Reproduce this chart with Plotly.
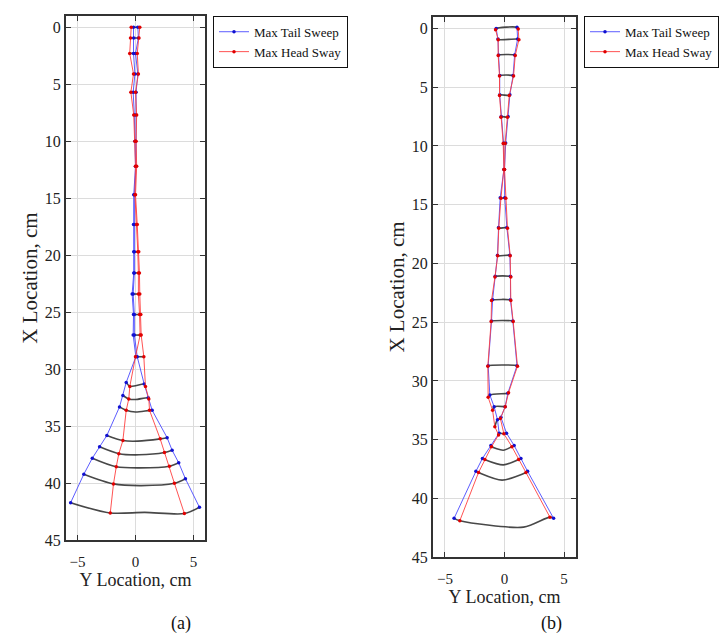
import plotly.graph_objects as go

# ---------------- Panel (a) data ----------------
# "_x" = X Location (vertical axis, cm), "_y" = Y Location (horizontal axis, cm)
a_tail_left_x = [0.0, 0.95, 2.3, 4.1, 5.7, 7.7, 10.0, 12.2, 14.7, 17.3, 19.7, 21.55, 23.4, 25.2, 27.0, 28.9, 31.15, 32.3, 33.3, 35.8, 36.8, 37.8, 39.2, 41.7]
a_tail_left_y = [-0.17, -0.15, -0.17, -0.05, -0.2, -0.1, -0.05, 0.0, -0.15, -0.17, -0.15, -0.15, -0.29, -0.17, -0.2, 0.03, -0.8, -1.09, -1.38, -2.47, -3.1, -3.73, -4.46, -5.6]
a_tail_right_x = [0.0, 0.95, 2.3, 4.1, 5.7, 7.7, 10.0, 12.2, 14.7, 17.3, 19.7, 21.55, 23.4, 25.2, 27.0, 28.9, 31.3, 32.5, 33.6, 36.0, 37.1, 38.2, 39.6, 42.1]
a_tail_right_y = [0.2, 0.25, 0.0, 0.2, 0.05, 0.05, 0.0, 0.05, -0.1, -0.1, -0.1, -0.1, -0.2, -0.1, -0.1, 0.15, 0.75, 1.1, 1.44, 2.73, 3.16, 3.73, 4.31, 5.52]
a_head_left_x = [0.0, 0.95, 2.3, 4.1, 5.7, 7.7, 10.0, 12.2, 14.7, 17.3, 19.7, 21.55, 23.4, 25.2, 27.0, 28.9, 31.5, 32.6, 33.6, 36.25, 37.4, 38.55, 40.05, 42.6]
a_head_left_y = [-0.37, -0.43, -0.5, -0.17, -0.4, -0.15, -0.05, 0.0, -0.05, 0.1, 0.2, 0.25, 0.25, 0.35, 0.4, 0.0, -0.49, -0.58, -0.8, -1.09, -1.44, -1.66, -1.9, -2.18]
a_head_right_x = [0.0, 0.95, 2.3, 4.1, 5.7, 7.7, 10.0, 12.2, 14.7, 17.3, 19.7, 21.55, 23.4, 25.2, 27.0, 28.9, 31.5, 32.6, 33.6, 36.1, 37.3, 38.5, 40.0, 42.65]
a_head_right_y = [0.37, 0.3, 0.15, 0.25, 0.0, 0.1, 0.05, 0.1, 0.0, 0.15, 0.28, 0.34, 0.37, 0.46, 0.49, 0.72, 0.86, 1.15, 1.21, 2.13, 2.5, 2.93, 3.36, 4.22]
a_arc_mid_x = [None] * 16 + [31.45, 32.65, 33.75, 36.3, 37.5, 38.65, 40.2, 42.55]
a_arc_mid_y = [None] * 16 + [0.0, 0.0, 0.0, 0.2, 0.3, 0.4, 0.5, 0.8]

# ---------------- Panel (b) data ----------------
b_tail_left_x = [0.0, 0.9, 2.25, 4.0, 5.65, 7.5, 9.75, 12.0, 14.4, 16.95, 19.3, 21.1, 23.1, 24.9, 28.7, 31.2, 32.2, 33.3, 34.45, 35.5, 36.6, 37.7, 41.7]
b_tail_left_y = [-0.7, -0.55, -0.5, -0.4, -0.4, -0.28, -0.08, -0.05, -0.36, -0.5, -0.59, -0.78, -1.0, -1.09, -1.37, -1.23, -0.87, -0.59, -0.45, -1.14, -1.85, -2.4, -4.23]
b_tail_right_x = [-0.1, 0.9, 2.25, 4.0, 5.65, 7.5, 9.75, 12.0, 14.4, 16.95, 19.3, 21.1, 23.1, 24.9, 28.7, 31.05, 32.2, 33.1, 34.45, 35.5, 36.6, 37.7, 41.7]
b_tail_right_y = [1.05, 1.1, 0.85, 0.72, 0.45, 0.3, 0.1, 0.0, 0.02, 0.2, 0.45, 0.5, 0.5, 0.7, 1.05, 0.28, 0.05, -0.3, 0.17, 0.81, 1.38, 1.94, 4.12]
b_head_left_x = [0.1, 0.95, 2.3, 4.05, 5.7, 7.55, 9.8, 12.0, 14.45, 17.0, 19.35, 21.15, 23.15, 24.95, 28.75, 31.4, 32.5, 33.9, 34.6, 35.6, 36.7, 37.8, 41.9]
b_head_left_y = [-0.75, -0.53, -0.53, -0.42, -0.42, -0.3, -0.11, -0.05, -0.3, -0.48, -0.57, -0.8, -1.09, -1.12, -1.4, -1.37, -1.0, -0.81, -0.5, -1.09, -1.65, -2.18, -3.75]
b_head_right_x = [0.05, 0.95, 2.3, 4.05, 5.7, 7.55, 9.8, 12.0, 14.45, 17.0, 19.35, 21.15, 23.15, 24.95, 28.75, 31.0, 32.2, 33.2, 34.5, 35.6, 36.7, 37.8, 41.6]
b_head_right_y = [1.15, 1.21, 0.9, 0.76, 0.4, 0.25, 0.05, 0.0, 0.11, 0.25, 0.48, 0.53, 0.53, 0.73, 1.09, 0.34, 0.06, -0.35, -0.05, 0.62, 1.18, 1.8, 3.81]
b_arc_mid_x = [None] * 19 + [35.9, 37.15, 38.45, 42.45]
b_arc_mid_y = [None] * 19 + [-0.1, -0.1, -0.2, 1.6]

x_tick_vals = [-5, 0, 5]
y_tick_vals = [0, 5, 10, 15, 20, 25, 30, 35, 40, 45]
legend_names = ["Max Tail Sweep", "Max Head Sway"]
captions = ["(a)", "(b)"]
x_title = "Y Location, cm"
y_title = "X Location, cm"

SERIF = "'Liberation Serif', 'Times New Roman', Times, serif"
W, H = 726, 643


def panel_traces(tl_x, tl_y, tr_x, tr_y, hl_x, hl_y, hr_x, hr_y, mid_x, mid_y, xa, ya, leg):
    traces = []
    # black arcs at each station
    for i in range(len(tl_x)):
        pts = [(tl_y[i], tl_x[i]), (hl_y[i], hl_x[i]), (hr_y[i], hr_x[i]), (tr_y[i], tr_x[i])]
        if mid_x[i] is not None:
            pts.append((mid_y[i], mid_x[i]))
        pts.sort(key=lambda p: p[0])
        traces.append(go.Scatter(
            x=[p[0] for p in pts], y=[p[1] for p in pts], mode="lines",
            line=dict(color="rgba(40,40,40,0.85)", width=1.6, shape="spline", smoothing=0.8),
            xaxis=xa, yaxis=ya, showlegend=False, hoverinfo="skip"))
    traces.append(go.Scatter(
        x=tl_y + [None] + tr_y, y=tl_x + [None] + tr_x, mode="lines+markers",
        name=legend_names[0], line=dict(color="#4a4aff", width=0.9),
        marker=dict(color="#1010d0", size=3.5), xaxis=xa, yaxis=ya, legend=leg))
    traces.append(go.Scatter(
        x=hl_y + [None] + hr_y, y=hl_x + [None] + hr_x, mode="lines+markers",
        name=legend_names[1], line=dict(color="#ff4040", width=0.9),
        marker=dict(color="#e00000", size=3.5), xaxis=xa, yaxis=ya, legend=leg))
    return traces


fig = go.Figure()
for t in panel_traces(a_tail_left_x, a_tail_left_y, a_tail_right_x, a_tail_right_y,
                      a_head_left_x, a_head_left_y, a_head_right_x, a_head_right_y,
                      a_arc_mid_x, a_arc_mid_y, "x", "y", "legend"):
    fig.add_trace(t)
for t in panel_traces(b_tail_left_x, b_tail_left_y, b_tail_right_x, b_tail_right_y,
                      b_head_left_x, b_head_left_y, b_head_right_x, b_head_right_y,
                      b_arc_mid_x, b_arc_mid_y, "x2", "y2", "legend2"):
    fig.add_trace(t)

common_x = dict(range=[-6, 6], tickvals=x_tick_vals, ticks="inside", ticklen=5, tickcolor="#333",
                showline=True, linecolor="#333", linewidth=2, mirror="ticks",
                showgrid=True, gridcolor="#dcdcdc", gridwidth=1, zeroline=False,
                ticklabelstandoff=7,
                tickfont=dict(family=SERIF, size=15, color="#222"),
                title=dict(text=x_title, font=dict(family=SERIF, size=18, color="#222"), standoff=3))
common_y = dict(range=[45, -1], tickvals=y_tick_vals, ticks="inside", ticklen=5, tickcolor="#333",
                showline=True, linecolor="#333", linewidth=2, mirror="ticks",
                showgrid=True, gridcolor="#dcdcdc", gridwidth=1, zeroline=False,
                tickfont=dict(family=SERIF, size=16, color="#222"),
                title=dict(text=y_title, font=dict(family=SERIF, size=21, color="#222"), standoff=1))

legend_common = dict(font=dict(family=SERIF, size=13, color="#111"), bordercolor="#111", borderwidth=1,
                     bgcolor="white", xanchor="left", yanchor="top", tracegroupgap=0, itemwidth=30)

fig.update_layout(
    width=W, height=H, margin=dict(l=0, r=0, t=0, b=0),
    plot_bgcolor="white", paper_bgcolor="white",
    xaxis=dict(domain=[66 / W, 205 / W], anchor="y", **common_x),
    yaxis=dict(domain=[1 - 548 / H, 1 - 16 / H], anchor="x", **common_y),
    xaxis2=dict(domain=[433 / W, 576 / W], anchor="y2", **common_x),
    yaxis2=dict(domain=[1 - 565 / H, 1 - 17 / H], anchor="x2", **common_y),
    legend=dict(x=213 / W, y=1 - 16 / H, **legend_common),
    legend2=dict(x=584 / W, y=1 - 16 / H, **legend_common),
    annotations=[
        dict(text=captions[0], x=181 / W, y=1 - 632 / H, xref="paper", yref="paper", showarrow=False,
             xanchor="center", yanchor="middle", font=dict(family=SERIF, size=18, color="#111")),
        dict(text=captions[1], x=551 / W, y=1 - 632 / H, xref="paper", yref="paper", showarrow=False,
             xanchor="center", yanchor="middle", font=dict(family=SERIF, size=18, color="#111")),
    ],
)

fig.write_html("out.html")
